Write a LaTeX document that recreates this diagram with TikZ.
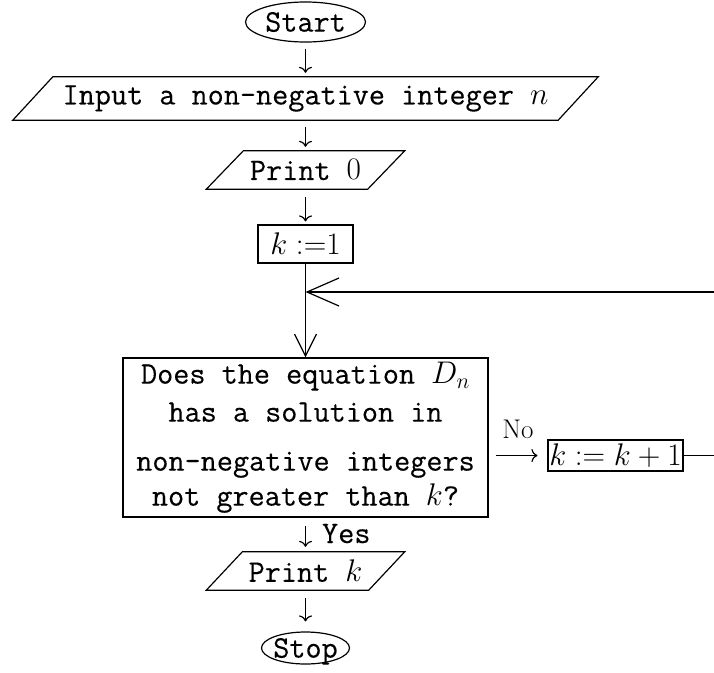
\RequirePackage{fix-cm}
\documentclass[tikz,border=0pt]{standalone}
\usepackage{fontspec}
\setmonofont{Latin Modern Mono}[FakeBold=0.3]
\usetikzlibrary{shapes.geometric,arrows.meta}
\newcommand\tightbox[2]{\makebox[0pt]{\raisebox{#1}[0pt][0pt]{#2}}}
\newcommand\iodraw[2]{\draw[ln] ([xshift=#2]#1.north west) -- (#1.north east) -- ([xshift=-#2]#1.south east) -- (#1.south west) -- cycle;}
\begin{document}
\begin{tikzpicture}[x=1pt,y=-1pt,
  ln/.style={line width=1.2pt},
  basefont/.style={inner sep=0pt, font=\fontsize{31.3}{37}\selectfont\ttfamily},
  term/.style={basefont, ellipse, draw, ln},
  iobox/.style={basefont, rectangle},
  procbox/.style={basefont, rectangle, draw, ln},
  flow/.style={ln, -{Computer Modern Rightarrow[length=6pt,width=13pt]}},
  loopflow/.style={ln, -{Straight Barb[length=22pt,width=22pt]}},
  loopflowwide/.style={ln, -{Straight Barb[length=32pt,width=28pt]}},
  lblrm/.style={inner sep=0pt, font=\fontsize{27}{31}\selectfont\rmfamily},
  lbltt/.style={inner sep=0pt, font=\fontsize{31.3}{37}\selectfont\ttfamily}]
\useasboundingbox (0,0) rectangle (714,672);

\node[term, minimum width=120, minimum height=40] (start) at (305.5,22) {\tightbox{-9.6pt}{Start}};
\node[iobox, minimum width=585, minimum height=43] (inp) at (305.5,98.5) {Input a non-negative integer $n$};
\iodraw{inp}{40}
\node[iobox, minimum width=198, minimum height=38] (prt0) at (305.5,170) {Print $0$};
\iodraw{prt0}{37}
\node[procbox, minimum width=95, minimum height=38] (k1) at (305.5,244) {$k\;{:=}1$};
\node[procbox, align=center, minimum width=365, minimum height=159] (dec) at (305.5,437.5)
  {Does the equation $D_n$\\[1pt] has a solution in\\[12pt] non-negative integers\\[-2pt] not greater than $k$?};
\node[procbox, minimum width=135, minimum height=31] (kk1) at (615.5,455.5) {$k := k+1$};
\node[iobox, minimum width=198, minimum height=38] (prtk) at (305.5,571) {Print $k$};
\iodraw{prtk}{36}
\node[term, minimum width=88, minimum height=32] (stop) at (305.5,648) {\tightbox{-9.6pt}{Stop}};

\coordinate (edgeTop) at (714,292);

\draw[flow, shorten <=6pt, shorten >=4pt] (start) -- (inp);
\draw[flow, shorten <=7pt, shorten >=4pt] (inp) -- (prt0);
\draw[flow, shorten <=8pt, shorten >=3pt] (prt0) -- (k1);
\draw[loopflow] (k1.south) -- (dec.north);
\draw[loopflowwide] (edgeTop) -- (k1.south |- edgeTop);
\draw[flow, shorten <=7pt, shorten >=10pt] (kk1.west -| dec.east) -- (kk1.west)
  node[lblrm, midway, above=16.5pt] {No};
\draw[ln] (kk1.east) -- (kk1.east -| edgeTop);
\draw[flow, shorten <=8pt, shorten >=5pt] (dec) -- (prtk)
  node[lbltt, pos=0.743, anchor=base west, xshift=16pt] {Yes};
\draw[flow, shorten <=8pt, shorten >=10pt] (prtk) -- (stop);
\end{tikzpicture}
\end{document}
